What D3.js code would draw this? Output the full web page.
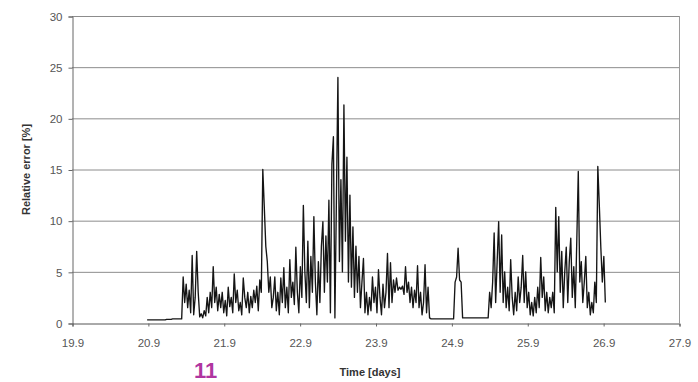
<!DOCTYPE html>
<html>
<head>
<meta charset="utf-8">
<script src="https://cdn.jsdelivr.net/npm/d3@7"></script>
<style>
  html, body { margin: 0; padding: 0; background: #fff; }
  svg { display: block; }
</style>
</head>
<body>
<svg id="chart" width="698" height="382"></svg>
<script>
// ---- data ----
const xTickValues = [19.9, 20.9, 21.9, 22.9, 23.9, 24.9, 25.9, 26.9, 27.9];
const xTickLabels = ["19.9", "20.9", "21.9", "22.9", "23.9", "24.9", "25.9", "26.9", "27.9"];
const yTickValues = [0, 5, 10, 15, 20, 25, 30];
const sampleStart = 20.89;   // days
const sampleStep = 0.0198;   // days between samples
const errorValues = [
  0.3, 0.3, 0.3, 0.3, 0.3, 0.3, 0.3, 0.3, 0.3, 0.3,
  0.3, 0.3, 0.3, 0.35, 0.35, 0.35, 0.35, 0.4, 0.4, 0.4,
  0.4, 0.4, 0.4, 0.4, 4.5, 2.0, 3.8, 1.5, 3.2, 1.0,
  6.6, 0.8, 2.5, 7.0, 3.0, 0.6, 0.9, 0.5, 1.2, 0.7,
  2.5, 1.0, 3.0, 1.5, 5.5, 2.0, 3.5, 1.2, 2.8, 1.5,
  3.0, 1.0, 2.2, 0.7, 3.5, 1.6, 2.5, 1.0, 4.8, 2.0,
  3.2, 1.2, 2.0, 0.8, 4.4, 2.5, 1.5, 3.0, 1.0, 2.6,
  1.5, 3.2, 2.0, 3.6, 1.2, 4.2, 3.0, 15.0, 11.3, 7.5,
  6.0, 3.0, 4.5, 1.5, 2.5, 4.5, 1.2, 3.0, 0.8, 4.4,
  2.0, 5.4, 1.5, 3.5, 1.0, 6.2, 2.5, 4.0, 1.8, 7.4,
  3.0, 1.0, 5.5, 2.5, 11.5, 5.0, 2.0, 8.0, 1.5, 6.5,
  3.0, 10.4, 4.0, 0.8, 6.0, 2.0, 7.5, 9.9, 3.0, 8.5,
  4.0, 12.0, 1.0, 15.5, 18.2, 0.5, 12.0, 24.0, 6.0, 14.0,
  5.0, 21.3, 8.0, 16.2, 4.0, 12.5, 3.5, 9.4, 2.5, 7.5,
  3.0, 6.5, 1.5, 4.0, 6.3, 1.0, 3.0, 0.8, 2.5, 1.2,
  4.5, 2.0, 3.5, 1.0, 5.2, 2.5, 0.8, 3.8, 1.5, 3.0,
  6.8, 1.5, 5.9, 2.0, 4.2, 3.0, 4.4, 3.2, 3.5, 3.3,
  3.6, 2.8, 5.5, 3.0, 4.0, 2.0, 3.5, 1.5, 3.2, 2.0,
  5.6, 1.5, 3.0, 0.8, 2.0, 5.7, 1.0, 3.5, 0.5, 0.4,
  0.4, 0.4, 0.4, 0.4, 0.4, 0.4, 0.4, 0.4, 0.4, 0.4,
  0.4, 0.4, 0.4, 0.4, 0.4, 4.0, 4.5, 7.3, 4.2, 4.0,
  0.5, 0.5, 0.5, 0.5, 0.5, 0.5, 0.5, 0.5, 0.5, 0.5,
  0.5, 0.5, 0.5, 0.5, 0.5, 0.5, 0.5, 0.5, 3.0, 1.5,
  4.0, 8.8, 2.0, 6.0, 9.9, 3.0, 8.6, 2.0, 5.0, 1.5,
  3.5, 1.2, 6.2, 2.5, 0.8, 3.0, 1.2, 4.5, 2.0, 3.5,
  6.6, 2.0, 5.0, 1.5, 3.0, 0.8, 2.0, 0.7, 2.5, 1.0,
  3.5, 1.5, 6.4, 2.5, 4.5, 1.2, 3.0, 1.0, 2.5, 1.5,
  3.0, 1.0, 11.3, 5.0, 10.4, 3.0, 7.0, 1.5, 5.0, 7.4,
  2.0, 6.0, 8.3, 2.5, 5.5, 1.5, 8.0, 14.8, 4.0, 6.0,
  2.0, 4.0, 6.5, 1.5, 3.0, 0.8, 2.0, 1.0, 4.0, 2.0,
  15.3, 11.5, 7.4, 4.0, 6.5, 2.0
];
const xAxisTitle = "Time [days]";
const yAxisTitle = "Relative error [%]";
const figureLabel = "11";

// ---- layout ----
const svg = d3.select("#chart");
const plotLeft = 72, plotRight = 679, plotTop = 16, plotBottom = 323;

const x = d3.scaleLinear().domain([19.9, 27.9]).range([plotLeft, plotRight]);
const y = d3.scaleLinear().domain([0, 30]).range([plotBottom, plotTop]);

const series = errorValues.map((v, i) => ({ t: sampleStart + i * sampleStep, v }));

// gridlines
svg.append("g")
  .selectAll("line")
  .data(yTickValues.filter(d => d > 0))
  .join("line")
  .attr("x1", plotLeft).attr("x2", plotRight)
  .attr("y1", d => y(d) + 0.5).attr("y2", d => y(d) + 0.5)
  .attr("stroke", "#8c8c8c").attr("stroke-width", 1);

// right border
svg.append("line")
  .attr("x1", plotRight + 0.5).attr("x2", plotRight + 0.5)
  .attr("y1", plotTop).attr("y2", plotBottom)
  .attr("stroke", "#9a9a9a").attr("stroke-width", 1);

// y axis
const yAxis = d3.axisLeft(y).tickValues(yTickValues).tickSize(4).tickPadding(6).tickFormat(d3.format("d"));
const gy = svg.append("g").attr("transform", `translate(${plotLeft + 0.5},0.5)`).call(yAxis);
gy.select(".domain").attr("stroke", "#666");
gy.selectAll(".tick line").attr("stroke", "#666");
gy.selectAll(".tick text")
  .attr("fill", "#555").attr("font-family", "Liberation Sans, Arial, sans-serif").attr("font-size", 11.5);

// x axis
const xAxis = d3.axisBottom(x).tickValues(xTickValues).tickSize(3).tickPadding(12)
  .tickFormat((d, i) => xTickLabels[i]);
const gx = svg.append("g").attr("transform", `translate(0.5,${plotBottom + 0.5})`).call(xAxis);
gx.select(".domain").attr("stroke", "#555");
gx.selectAll(".tick line").attr("stroke", "#666");
gx.selectAll(".tick text")
  .attr("fill", "#555").attr("font-family", "Liberation Sans, Arial, sans-serif").attr("font-size", 11.5);

// line
const line = d3.line().x(d => x(d.t)).y(d => y(d.v));
svg.append("path")
  .datum(series)
  .attr("d", line)
  .attr("fill", "none")
  .attr("stroke", "#151515")
  .attr("stroke-width", 1.35)
  .attr("stroke-linejoin", "round");

// axis titles
svg.append("text")
  .attr("transform", `translate(30,${(plotTop + plotBottom) / 2}) rotate(-90)`)
  .attr("text-anchor", "middle")
  .attr("font-family", "Liberation Sans, Arial, sans-serif")
  .attr("font-size", 11).attr("font-weight", "bold").attr("fill", "#333")
  .text(yAxisTitle);

svg.append("text")
  .attr("x", 370).attr("y", 376)
  .attr("text-anchor", "middle")
  .attr("font-family", "Liberation Sans, Arial, sans-serif")
  .attr("font-size", 11).attr("font-weight", "bold").attr("fill", "#333")
  .text(xAxisTitle);

// figure label
svg.append("text")
  .attr("x", 194).attr("y", 378)
  .attr("font-family", "Liberation Sans, Arial, sans-serif")
  .attr("font-size", 22).attr("font-weight", "bold").attr("fill", "#b0369f")
  .text(figureLabel);
</script>
</body>
</html>
